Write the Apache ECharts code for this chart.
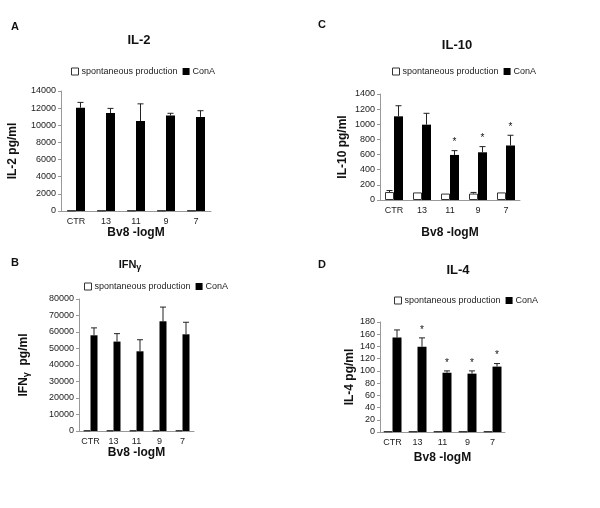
<!DOCTYPE html>
<html>
<head>
<meta charset="utf-8">
<script src="https://cdn.jsdelivr.net/npm/echarts@6/dist/echarts.min.js"></script>
<style>html,body{margin:0;padding:0;background:#fff}#c{width:600px;height:508px}</style>
</head>
<body>
<div id="c"></div>
<script>
const categories = ['CTR', '13', '11', '9', '7'];
const seriesNames = ['spontaneous production', 'ConA'];

const il2Spont = [50, 50, 50, 50, 50];
const il2SpontErr = [0, 0, 0, 0, 0];
const il2ConA = [12050, 11420, 10500, 11150, 10980];
const il2ConAErr = [620, 550, 2000, 250, 720];
const il2Stars = [0, 0, 0, 0, 0];
const il2Ticks = [0, 2000, 4000, 6000, 8000, 10000, 12000, 14000];

const il10Spont = [105, 100, 85, 85, 100];
const il10SpontErr = [20, 0, 0, 15, 0];
const il10ConA = [1105, 995, 595, 630, 720];
const il10ConAErr = [140, 150, 57, 75, 135];
const il10Stars = [0, 0, 1, 1, 1];
const il10Ticks = [0, 200, 400, 600, 800, 1000, 1200, 1400];

const ifnSpont = [300, 300, 300, 300, 300];
const ifnSpontErr = [0, 0, 0, 0, 0];
const ifnConA = [58000, 54200, 48300, 66500, 58600];
const ifnConAErr = [4500, 4800, 7000, 8600, 7300];
const ifnStars = [0, 0, 0, 0, 0];
const ifnTicks = [0, 10000, 20000, 30000, 40000, 50000, 60000, 70000, 80000];

const il4Spont = [1, 1, 1, 1, 1];
const il4SpontErr = [0, 0, 0, 0, 0];
const il4ConA = [154.5, 139.5, 97, 95.5, 107];
const il4ConAErr = [12.5, 14.5, 3, 4.5, 5];
const il4Stars = [0, 1, 1, 1, 1];
const il4Ticks = [0, 20, 40, 60, 80, 100, 120, 140, 160, 180];

const FONT = "'Liberation Sans', Arial, sans-serif";

const panels = [
  { letter: 'A', title: 'IL-2', yName: 'IL-2 pg/ml', spont: il2Spont, spontErr: il2SpontErr, conA: il2ConA, conAErr: il2ConAErr, stars: il2Stars, ticks: il2Ticks,
    grid: { left: 61, top: 91, width: 150, height: 120 }, barW: 9, letterPos: [15, 27], titlePos: [139, 40], titleSize: 13, legendPos: [66, 62], yGap: 42, xGap: 16 },
  { letter: 'C', title: 'IL-10', yName: 'IL-10 pg/ml', spont: il10Spont, spontErr: il10SpontErr, conA: il10ConA, conAErr: il10ConAErr, stars: il10Stars, ticks: il10Ticks,
    grid: { left: 380, top: 94, width: 140, height: 106 }, barW: 9, letterPos: [322, 25], titlePos: [457, 45], titleSize: 13, legendPos: [387, 62], yGap: 31, xGap: 27 },
  { letter: 'B', title: 'IFN{s|γ}', yName: 'IFN{s|γ}  pg/ml', spont: ifnSpont, spontErr: ifnSpontErr, conA: ifnConA, conAErr: ifnConAErr, stars: ifnStars, ticks: ifnTicks,
    grid: { left: 79, top: 299, width: 115, height: 132 }, barW: 7, letterPos: [15, 263], titlePos: [130, 265], titleSize: 11, legendPos: [79, 277], yGap: 48, xGap: 15 },
  { letter: 'D', title: 'IL-4', yName: 'IL-4 pg/ml', spont: il4Spont, spontErr: il4SpontErr, conA: il4ConA, conAErr: il4ConAErr, stars: il4Stars, ticks: il4Ticks,
    grid: { left: 380, top: 322, width: 125, height: 110 }, barW: 9, letterPos: [322, 265], titlePos: [458, 270], titleSize: 13, legendPos: [389, 291], yGap: 24, xGap: 20 }
];

const grids = [], xAxes = [], yAxes = [], series = [], legends = [], graphics = [];

function errRenderer(offsetSign, barW) {
  return function (params, api) {
    const idx = api.value(0);
    const val = api.value(1);
    const err = api.value(2);
    const star = api.value(3);
    const cx = api.coord([idx, 0])[0] + offsetSign * barW / 2;
    const yTop = api.coord([idx, val + err])[1];
    const yVal = api.coord([idx, val])[1];
    const children = [];
    if (err > 0) {
      children.push({ type: 'line', shape: { x1: cx, y1: yVal, x2: cx, y2: yTop }, style: { stroke: '#222', lineWidth: 1 } });
      children.push({ type: 'line', shape: { x1: cx - 3, y1: yTop, x2: cx + 3, y2: yTop }, style: { stroke: '#222', lineWidth: 1 } });
    }
    if (star) {
      children.push({ type: 'text', x: cx, y: yTop - 3, style: { text: '*', font: '10px ' + FONT, fill: '#111', align: 'center', verticalAlign: 'bottom' } });
    }
    return { type: 'group', children: children };
  };
}

panels.forEach((p, i) => {
  grids.push(Object.assign({ containLabel: false }, p.grid));
  xAxes.push({
    type: 'category', gridIndex: i, data: categories,
    name: 'Bv8 -logM', nameLocation: 'middle', nameGap: p.xGap,
    nameTextStyle: { fontFamily: FONT, fontSize: 12, fontWeight: 'bold', color: '#111', verticalAlign: 'top' },
    axisLine: { lineStyle: { color: '#999', width: 1 } },
    axisTick: { show: false },
    axisLabel: { fontFamily: FONT, fontSize: 9, color: '#222', margin: 6, interval: 0 },
    splitLine: { show: false }
  });
  yAxes.push({
    type: 'value', gridIndex: i, min: p.ticks[0], max: p.ticks[p.ticks.length - 1], interval: p.ticks[1] - p.ticks[0],
    name: p.yName, nameLocation: 'middle', nameGap: p.yGap, nameRotate: 90,
    nameTextStyle: { fontFamily: FONT, fontSize: 12, fontWeight: 'bold', color: '#111',
      rich: { s: { fontFamily: FONT, fontSize: 9, fontWeight: 'bold', color: '#111', verticalAlign: 'bottom', padding: [6, 0, 0, 0] } } },
    axisLine: { show: true, lineStyle: { color: '#999', width: 1 } },
    axisTick: { show: true, length: 3, lineStyle: { color: '#999' } },
    axisLabel: { fontFamily: FONT, fontSize: 9, color: '#222', margin: 5, formatter: v => String(v) },
    splitLine: { show: false }
  });
  series.push({
    name: seriesNames[0], type: 'bar', xAxisIndex: i, yAxisIndex: i, data: p.spont, barWidth: p.barW, barGap: '0%',
    itemStyle: { color: '#fff', borderColor: '#333', borderWidth: 1 }, silent: true
  });
  series.push({
    name: seriesNames[1], type: 'bar', xAxisIndex: i, yAxisIndex: i, data: p.conA, barWidth: p.barW, barGap: '0%',
    itemStyle: { color: '#000' }, silent: true
  });
  series.push({
    type: 'custom', xAxisIndex: i, yAxisIndex: i, renderItem: errRenderer(-1, p.barW),
    data: categories.map((c, k) => [k, p.spont[k], p.spontErr[k], 0]), encode: { x: 0, y: 1 }, z: 5, silent: true
  });
  series.push({
    type: 'custom', xAxisIndex: i, yAxisIndex: i, renderItem: errRenderer(1, p.barW),
    data: categories.map((c, k) => [k, p.conA[k], p.conAErr[k], p.stars[k]]), encode: { x: 0, y: 1 }, z: 5, silent: true
  });
  legends.push({
    data: [{ name: seriesNames[0], itemStyle: { color: '#fff', borderColor: '#333', borderWidth: 1 } }, { name: seriesNames[1] }],
    left: p.legendPos[0], top: p.legendPos[1], icon: 'rect', itemWidth: 7, itemHeight: 7, itemGap: 5,
    textStyle: { fontFamily: FONT, fontSize: 9, color: '#222', padding: [0, 0, 0, -2] }, selectedMode: false
  });
  graphics.push({ type: 'text', x: p.letterPos[0], y: p.letterPos[1],
    style: { text: p.letter, font: 'bold 11px ' + FONT, fill: '#111', align: 'center', verticalAlign: 'middle' } });
  graphics.push({ type: 'text', x: p.titlePos[0], y: p.titlePos[1],
    style: { text: p.title, font: 'bold ' + p.titleSize + 'px ' + FONT, fill: '#111', align: 'center', verticalAlign: 'middle',
      rich: { s: { font: 'bold 9px ' + FONT, fill: '#111', verticalAlign: 'bottom', padding: [5, 0, 0, 0] } } } });
});

const chart = echarts.init(document.getElementById('c'), null, { renderer: 'canvas' });
chart.setOption({
  animation: false,
  backgroundColor: '#fff',
  grid: grids, xAxis: xAxes, yAxis: yAxes, series: series, legend: legends, graphic: graphics
});
</script>
</body>
</html>
